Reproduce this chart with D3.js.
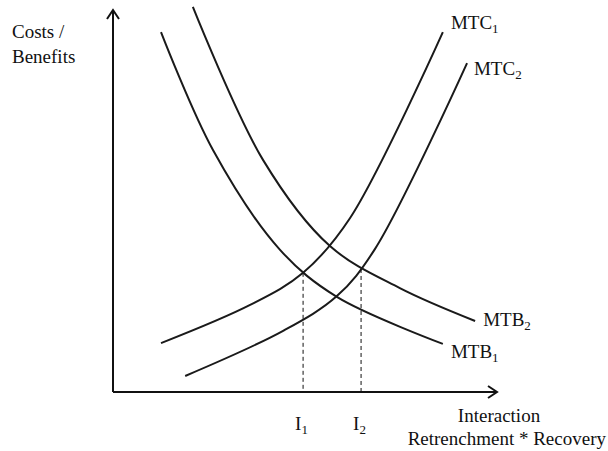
<!DOCTYPE html>
<html>
<head>
<meta charset="utf-8">
<script src="https://cdn.jsdelivr.net/npm/d3@7"></script>
<style>
	body { margin: 0; background: #fff; }
</style>
</head>
<body>
<svg id="chart" width="608" height="451"></svg>
<script>
"use strict";

// curve points in axis units (0..100 on both axes)
const mtc1 = [[12.5, 12.8], [35.7, 22.8], [49.5, 31.2], [61.7, 45.5], [85.9, 94.2]];
const mtc2 = [[18.8, 4.2], [44.3, 16.0], [58.3, 25.1], [68.2, 37.4], [92.2, 86.1]];
const mtb1 = [[12.5, 94.2], [26.0, 63.4], [43.5, 37.2], [58.3, 24.9], [85.9, 12.6]];
const mtb2 = [[20.8, 100.8], [39.1, 60.7], [56.5, 38.2], [74.7, 27.2], [94.3, 18.6]];
const equilibria = [[49.5, 31.2, "I", "1"], [64.6, 32.2, "I", "2"]];
const curveLabels = [
	["MTC", "1", 88.0, 94.9],
	["MTC", "2", 94.0, 83.0],
	["MTB", "2", 96.4, 17.2],
	["MTB", "1", 88.0, 8.9],
];

(() => {
	const font = '"Liberation Serif", Tinos, "Times New Roman", Times, "DejaVu Serif", serif';
	const svg = d3.select('#chart');
	const x = d3.scaleLinear().domain([0, 100]).range([113, 497]);
	const y = d3.scaleLinear().domain([0, 100]).range([392, 10]);

	const line = d3.line()
		.x((d) => x(d[0]))
		.y((d) => y(d[1]))
		.curve(d3.curveCatmullRom.alpha(0.5));

	// axes
	const ax = svg.append('g')
		.attr('stroke', '#111')
		.attr('stroke-width', 2)
		.attr('fill', 'none');
	ax.append('path').attr('d', `M${x(0)},${y(0)}V${y(100)}`);
	ax.append('path').attr('d', `M${x(0)},${y(0)}H${x(100)}`);
	ax.append('path').attr('d', `M${x(0) - 6},${y(100) + 9}L${x(0)},${y(100)}L${x(0) + 6},${y(100) + 9}`);
	ax.append('path').attr('d', `M${x(100) - 9},${y(0) - 6}L${x(100)},${y(0)}L${x(100) - 9},${y(0) + 6}`);

	// dashed drop lines
	svg.append('g').selectAll('line')
		.data(equilibria)
		.enter().append('line')
		.attr('x1', (d) => x(d[0])).attr('x2', (d) => x(d[0]))
		.attr('y1', (d) => y(d[1])).attr('y2', y(0))
		.attr('stroke', '#111')
		.attr('stroke-width', 1)
		.attr('stroke-dasharray', '4,3');

	svg.append('g').selectAll('path')
		.data([mtc1, mtc2, mtb1, mtb2])
		.enter().append('path')
		.attr('d', line)
		.attr('fill', 'none')
		.attr('stroke', '#1a1a1a')
		.attr('stroke-width', 2);

	const txt = (px, py) => svg.append('text')
		.attr('x', px).attr('y', py)
		.style('font-family', font)
		.attr('font-size', 19)
		.attr('fill', '#111');

	const sub = (sel, main, s) => {
		sel.append('tspan').text(main);
		sel.append('tspan').attr('font-size', 13).attr('dy', 4).text(s);
	};

	curveLabels.forEach((d) => sub(txt(x(d[2]), y(d[3])), d[0], d[1]));
	equilibria.forEach((d) => sub(txt(x(d[0]) - 8, 430), d[2], d[3]));

	txt(12, 38).text('Costs /');
	txt(12, 63).text('Benefits');
	txt(499, 422).attr('text-anchor', 'middle').text('Interaction');
	txt(606, 445).attr('text-anchor', 'end').text('Retrenchment * Recovery');
})();
</script>
</body>
</html>
